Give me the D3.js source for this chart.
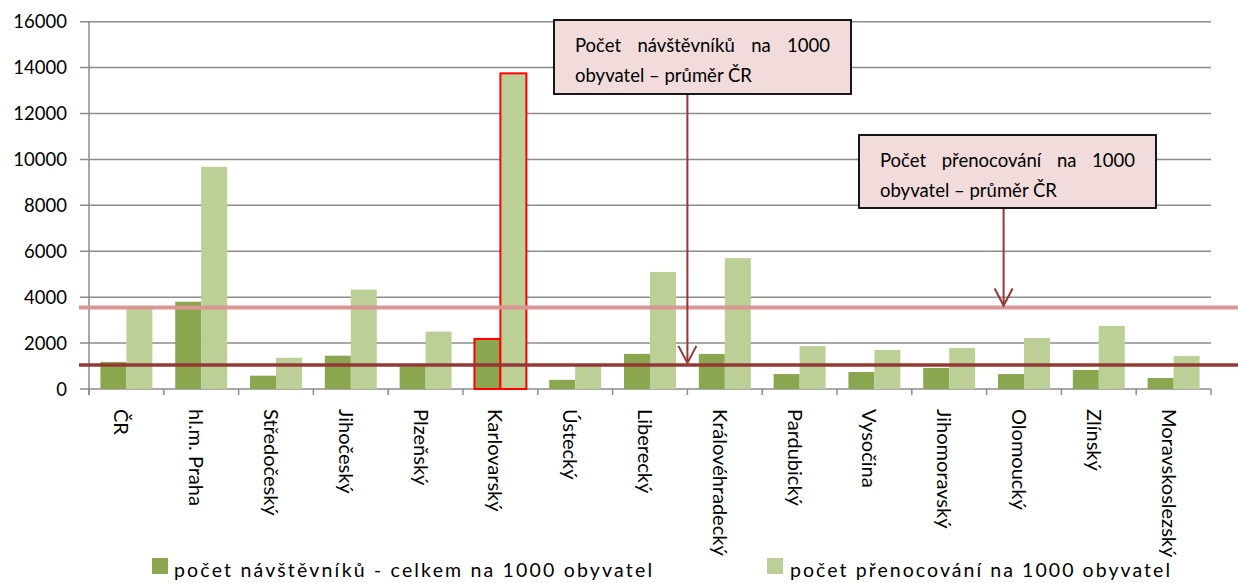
<!DOCTYPE html>
<html><head><meta charset="utf-8">
<script src="https://cdn.jsdelivr.net/npm/d3@7"></script>
<style>body{margin:0;background:#fff}svg{display:block}text{font-family:Lato,"Liberation Sans",sans-serif}</style>
</head><body><svg id="c" width="1238" height="583"></svg>
<script>
const categories = ["ČR","hl.m. Praha","Středočeský","Jihočeský","Plzeňský","Karlovarský","Ústecký","Liberecký","Královéhradecký","Pardubický","Vysočina","Jihomoravský","Olomoucký","Zlínský","Moravskoslezský"];
const visitors = [1180,3800,580,1450,990,2180,400,1530,1530,650,740,920,650,830,480];
const nights = [3480,9680,1360,4330,2500,13750,1000,5100,5700,1870,1700,1790,2220,2750,1440];
const seriesNames = ["počet návštěvníků - celkem na 1000 obyvatel","počet přenocování na 1000 obyvatel"];
const yTicks = [0,2000,4000,6000,8000,10000,12000,14000,16000];
const avgVisitors = 1050;
const avgNights = 3550;
const highlighted = "Karlovarský";
const callout1 = ["Počet návštěvníků na 1000","obyvatel – průměr ČR"];
const callout2 = ["Počet přenocování na 1000","obyvatel – průměr ČR"];

const svg = d3.select("#c");
const colors = ["#8AA64E","#BBCF97"];
const x = d3.scaleBand().domain(categories).range([89,1211]).paddingInner(0).paddingOuter(0);
const xs = d3.scaleBand().domain([0,1]).range([0,x.bandwidth()]).paddingInner(0).paddingOuter(0.44);
const y = d3.scaleLinear().domain([0,16000]).range([389,21.7]);

// gridlines
svg.append("g").selectAll("line").data(yTicks).join("line")
  .attr("x1",80).attr("x2",1211).attr("y1",d=>y(d)).attr("y2",d=>y(d))
  .attr("stroke","#8C8C8C").attr("stroke-width",1.5);
// y axis line
svg.append("line").attr("x1",89).attr("x2",89).attr("y1",y(16000)).attr("y2",y(0)+6).attr("stroke","#8C8C8C").attr("stroke-width",1.5);
// y labels
svg.append("g").selectAll("text").data(yTicks).join("text")
  .attr("x",67).attr("y",d=>y(d)).attr("dy","0.36em").attr("text-anchor","end")
  .attr("font-size",18.5).attr("fill","#000").text(d=>d);
// x ticks
const bounds = categories.map(c=>x(c)).concat([x.range()[1]]);
svg.append("g").selectAll("line").data(bounds).join("line")
  .attr("x1",d=>d).attr("x2",d=>d).attr("y1",y(0)).attr("y2",y(0)+6)
  .attr("stroke","#8C8C8C").attr("stroke-width",1.5);

// bars
const data = categories.map((c,i)=>({c, v:[visitors[i],nights[i]]}));
const groups = svg.append("g").selectAll("g").data(data).join("g").attr("transform",d=>`translate(${x(d.c)},0)`);
groups.selectAll("rect").data(d=>d.v.map((v,k)=>({k,v,c:d.c}))).join("rect")
  .attr("x",d=>xs(d.k)).attr("width",xs.bandwidth())
  .attr("y",d=>y(d.v)).attr("height",d=>y(0)-y(d.v))
  .attr("fill",d=>colors[d.k])
  .attr("stroke",d=>d.c===highlighted?"#FF0000":"none").attr("stroke-width",2);

// average lines
svg.append("line").attr("x1",79).attr("x2",1238).attr("y1",y(avgNights)).attr("y2",y(avgNights)).attr("stroke","#DA9694").attr("stroke-width",4);
svg.append("line").attr("x1",79).attr("x2",1238).attr("y1",y(avgVisitors)).attr("y2",y(avgVisitors)).attr("stroke","#953735").attr("stroke-width",3.5);

// x labels
svg.append("g").selectAll("text").data(categories).join("text")
  .attr("transform",d=>`translate(${x(d)+x.bandwidth()/2-12},409) rotate(90)`)
  .attr("font-size",20).attr("fill","#000").text(d=>d);

// callouts
function callout(box, lines, ax, tipY){
  const g = svg.append("g");
  g.append("line").attr("x1",ax).attr("x2",ax).attr("y1",box.y+box.h).attr("y2",tipY).attr("stroke","#953735").attr("stroke-width",2);
  g.append("path").attr("d",`M${ax-9},${tipY-17}L${ax},${tipY}L${ax+9},${tipY-17}`).attr("fill","none").attr("stroke","#953735").attr("stroke-width",2);
  g.append("rect").attr("x",box.x).attr("y",box.y).attr("width",box.w).attr("height",box.h)
    .attr("fill","#F2DCDB").attr("stroke","#000").attr("stroke-width",1.8);
  const left = box.x+21, right = box.x+box.w-21;
  const fs = 18.5;
  const words = lines[0].split(" ");
  const tw = words.map(w=>g.append("text").attr("font-size",fs).text(w));
  const widths = tw.map(t=>t.node().getComputedTextLength());
  const gap = (right-left-d3.sum(widths))/(words.length-1);
  let cx = left;
  tw.forEach((t,i)=>{t.attr("x",cx).attr("y",box.y+32).attr("fill","#000");cx+=widths[i]+gap;});
  g.append("text").attr("x",left).attr("y",box.y+62).attr("font-size",fs).attr("fill","#000").text(lines[1]);
}
callout({x:554,y:20,w:297,h:74}, callout1, x("Královéhradecký"), y(avgVisitors)-2);
callout({x:859,y:135,w:297,h:73}, callout2, x("Olomoucký")+17, y(avgNights)-2);

// legend
const leg = [{x:152,tx:174,tw:478},{x:767,tx:790,tw:380}];
leg.forEach((l,i)=>{
  svg.append("rect").attr("x",l.x).attr("y",558).attr("width",16).attr("height",16).attr("fill",colors[i]);
  svg.append("text").attr("x",l.tx).attr("y",577).attr("font-size",19.5).attr("fill","#000")
    .attr("textLength",l.tw).attr("lengthAdjust","spacing").text(seriesNames[i]);
});
</script></body></html>
